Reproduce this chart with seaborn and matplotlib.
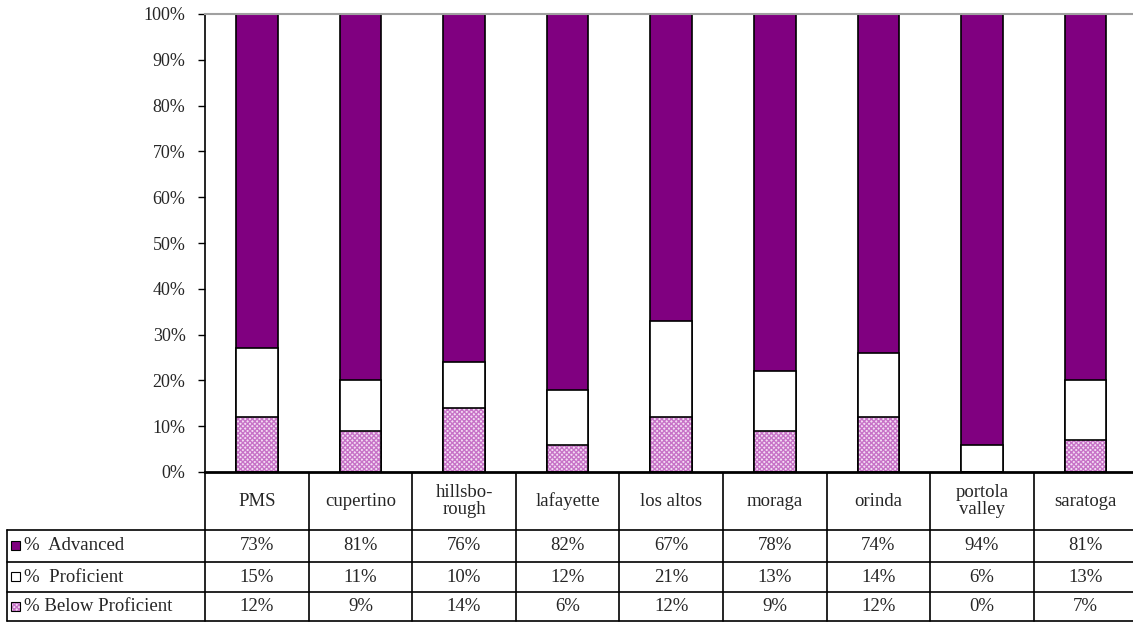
import seaborn as sns
import pandas as pd
import numpy as np
import matplotlib.pyplot as plt
from matplotlib.patches import Rectangle

# datos
escuelas = ["PMS", "cupertino", "hillsborough", "lafayette", "los altos",
            "moraga", "orinda", "portola valley", "saratoga"]
etiquetas = ["PMS", "cupertino", "hillsbo-\nrough", "lafayette", "los altos",
             "moraga", "orinda", "portola\nvalley", "saratoga"]
advanced = [73, 81, 76, 82, 67, 78, 74, 94, 81]
proficient = [15, 11, 10, 12, 21, 13, 14, 6, 13]
below = [12, 9, 14, 6, 12, 9, 12, 0, 7]
series = ["%  Advanced", "%  Proficient", "% Below Proficient"]

df = pd.DataFrame({"escuela": escuelas, "adv": advanced, "prof": proficient, "below": below})
df["tope_prof"] = df["below"] + df["prof"]
df["tope_adv"] = df["tope_prof"] + df["adv"]

sns.set_theme(style="white")
plt.rcParams["font.family"] = ["Liberation Serif", "DejaVu Serif"]
plt.rcParams["font.size"] = 13
plt.rcParams["hatch.linewidth"] = 1.0

morado = "#800080"
rosa = "#f4dcf4"
rosa_osc = "#c773c7"
trama = "xxxxxxx"

W, H = 1133, 623
fig = plt.figure(figsize=(W / 100, H / 100), dpi=100)

x0, colw = 205, 103.6
y_top, y_cero = 14, 472
ax = fig.add_axes([x0 / W, (H - y_cero) / H, 9 * colw / W, (y_cero - y_top) / H])

# barras apiladas (capas acumuladas)
sns.barplot(data=df, x="escuela", y="tope_adv", color=morado, width=0.4,
            edgecolor="black", linewidth=1.2, saturation=1, ax=ax)
sns.barplot(data=df, x="escuela", y="tope_prof", color="white", width=0.4,
            edgecolor="black", linewidth=1.2, saturation=1, ax=ax)
n_prev = len(ax.patches)
sns.barplot(data=df, x="escuela", y="below", color=rosa, width=0.4,
            edgecolor=rosa_osc, linewidth=0, saturation=1, ax=ax)
for p in ax.patches[n_prev:]:
    p.set_hatch(trama)
sns.barplot(data=df, x="escuela", y="below", color="black", width=0.4,
            fill=False, linewidth=1.2, ax=ax)

ax.set_xlim(-0.5, 8.5)
ax.set_ylim(0, 100)
ax.set_yticks(np.arange(0, 101, 10))
ax.set_yticklabels([f"{v}%" for v in range(0, 101, 10)])
ax.set_xticks([])
ax.set_xlabel("")
ax.set_ylabel("")
ax.tick_params(axis="y", length=5, width=1, color="black", direction="out",
               left=True, labelsize=13, pad=9)
for s in ["left", "bottom"]:
    ax.spines[s].set_color("black")
ax.spines["left"].set_linewidth(1.2)
ax.spines["bottom"].set_linewidth(2)
ax.spines["top"].set_color("#a0a0a0")
ax.spines["top"].set_linewidth(1.5)
ax.spines["right"].set_visible(False)

# tabla de datos debajo
tab = fig.add_axes([0, 0, 1, 1], zorder=-1)
tab.set_xlim(0, W)
tab.set_ylim(H, 0)
tab.axis("off")

filas = [y_cero, 530, 562, 592, 621]
x_der = x0 + 9 * colw
for i in range(10):
    xc = x0 + i * colw
    tab.plot([xc, xc], [y_cero, filas[-1]], color="black", lw=1.2)
for y in filas[1:]:
    tab.plot([7, x_der], [y, y], color="black", lw=1.2)
tab.plot([7, 7], [filas[1], filas[-1]], color="black", lw=1.2)

for i, lab in enumerate(etiquetas):
    xc = x0 + (i + 0.5) * colw
    tab.text(xc, (filas[0] + filas[1]) / 2, lab, ha="center", va="center",
             fontsize=13.5, linespacing=1.0)

valores = [advanced, proficient, below]
colores = [morado, "white", rosa]
for r, (nombre, vals, c) in enumerate(zip(series, valores, colores)):
    yc = (filas[r + 1] + filas[r + 2]) / 2
    sq = Rectangle((11, yc - 5), 9, 9, facecolor=c, edgecolor="black", lw=0.8)
    if r == 2:
        sq.set_hatch(trama)
        sq.set_edgecolor(rosa_osc)
        sq.set_linewidth(0)
        tab.add_patch(sq)
        sq = Rectangle((11, yc - 5), 9, 9, fill=False, edgecolor="black", lw=0.8)
    tab.add_patch(sq)
    tab.text(24, yc, nombre, ha="left", va="center", fontsize=13.5)
    for i, v in enumerate(vals):
        tab.text(x0 + (i + 0.5) * colw, yc, f"{v}%", ha="center", va="center",
                 fontsize=13.5)

fig.savefig("out.png", dpi=100)
